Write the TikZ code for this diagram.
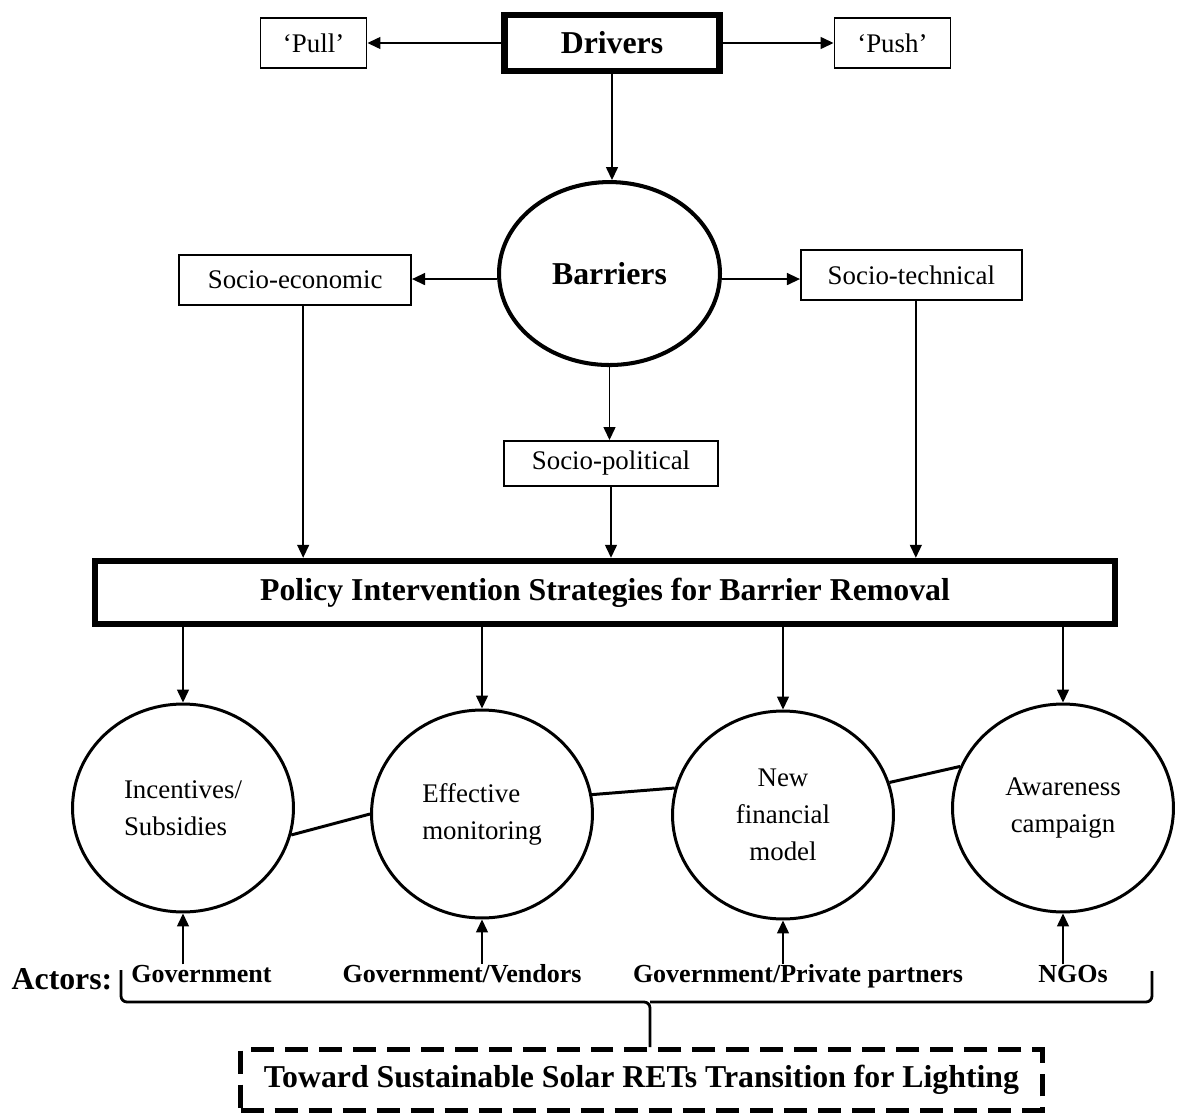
\documentclass[tikz,border=0pt]{standalone}
\usepackage{fontspec}
\setmainfont{Liberation Serif}
\usepackage{tikz}
\usetikzlibrary{positioning,shapes.geometric,arrows.meta,calc}
\newcommand{\hdfont}{\fontsize{18.1}{21}\selectfont\bfseries}
\newcommand{\bxfont}{\fontsize{15.3}{21}\selectfont}
\newcommand{\actfont}{\fontsize{14.8}{18}\selectfont\bfseries}

\begin{document}
\begin{tikzpicture}[
    x=0.02cm, y=-0.02cm,
    box/.style={rectangle, draw, line width=1pt, minimum height=1cm, align=center, font=\bxfont},
    thickbox/.style={rectangle, draw, line width=3.5pt, minimum height=1.12cm, align=center, font=\hdfont},
    circ/.style={ellipse, draw, line width=1.7pt, minimum width=4.42cm, minimum height=4.16cm, inner sep=0pt, font=\bxfont},
    actor/.style={anchor=base, inner sep=0pt, font=\actfont},
    arrow/.style={-{Triangle[length=0.26cm, width=0.24cm]}, line width=0.8pt},
    link/.style={line width=1.7pt},
    bracel/.style={line width=1.6pt, rounded corners=0.12cm}
]
    \useasboundingbox (0,0) rectangle (1184,1115);

    % Drivers and the two directions
    \node[thickbox, minimum width=4.3cm] (drivers) at (612,43) {Drivers};
    \node[box, minimum width=2.12cm, left=2.68cm of drivers] (pull) {`Pull'};
    \node[box, minimum width=2.32cm, right=2.22cm of drivers] (push) {`Push'};

    % Barriers and the three kinds
    \node[ellipse, draw, line width=2.3pt, minimum width=4.42cm, minimum height=3.66cm, font=\hdfont, below=2.12cm of drivers.south, anchor=north, xshift=-0.05cm] (barriers) {Barriers};
    \node[box, minimum width=4.64cm, left=1.7cm of barriers, yshift=-0.13cm] (socio_eco) {Socio-economic};
    \node[box, minimum width=4.42cm, right=1.56cm of barriers, yshift=-0.03cm] (socio_tech) {Socio-technical};
    \node[box, minimum width=4.28cm, minimum height=0.9cm, below=1.46cm of barriers, xshift=0.03cm] (socio_pol) {Socio-political};

    % Policy box
    \node[thickbox, minimum width=20.42cm, minimum height=1.26cm, below=1.42cm of socio_pol, xshift=-0.12cm] (policy) {Policy Intervention Strategies for Barrier Removal};

    % Strategies
    \node[circ, align=left] (incentives) at (183,808) {Incentives/\\Subsidies};
    \node[circ, align=left] (monitoring) at (482,814) {Effective\\monitoring};
    \node[circ, align=center] (finance) at (783,815) {New\\financial\\model};
    \node[circ, align=center] (awareness) at (1063,808) {Awareness\\campaign};

    % Actors
    \node[anchor=base, inner sep=0pt, font=\hdfont] (actors) at (62,989) {Actors:};
    \node[actor] (act_gov) at (201.5,982) {Government};
    \node[actor] (act_vendors) at (462,982) {Government/Vendors};
    \node[actor] (act_private) at (798,982) {Government/Private partners};
    \node[actor] (act_ngos) at (1073,982) {NGOs};

    % Goal
    \node[rectangle, draw, line width=2.8pt, dash pattern=on 0.46cm off 0.22cm, minimum width=16.04cm, minimum height=1.22cm, font=\hdfont] (goal) at (641.5,1080) {Toward Sustainable Solar RETs Transition for Lighting};

    % Arrows: drivers
    \draw[arrow] (drivers.west) -- (pull.east);
    \draw[arrow] (drivers.east) -- (push.west);
    \draw[arrow] (drivers.south) -- (drivers.south |- barriers.north);

    % Arrows: barriers
    \draw[arrow] ([yshift=-0.11cm]barriers.west) -- ([yshift=-0.11cm]barriers.west -| socio_eco.east);
    \draw[arrow] ([yshift=-0.11cm]barriers.east) -- ([yshift=-0.11cm]barriers.east -| socio_tech.west);
    \draw[arrow] (barriers.south) -- (barriers.south |- socio_pol.north);

    % Arrows: into policy
    \draw[arrow] ([xshift=0.16cm]socio_eco.south) -- ([xshift=0.16cm]socio_eco.south |- policy.north);
    \draw[arrow] (socio_pol.south) -- (socio_pol.south |- policy.north);
    \draw[arrow] ([xshift=0.09cm]socio_tech.south) -- ([xshift=0.09cm]socio_tech.south |- policy.north);

    % Arrows: policy to strategies
    \foreach \s in {incentives,monitoring,finance,awareness}
        \draw[arrow] (policy.south -| \s.north) -- (\s.north);

    % Links between strategies
    \draw[link] (incentives.-14) -- (monitoring.180);
    \draw[link] (monitoring.10) -- (finance.166);
    \draw[link] (finance.17) -- (awareness.158);

    % Arrows: actors to strategies
    \draw[arrow] (act_gov.north -| incentives.south) -- (incentives.south);
    \draw[arrow] (act_vendors.north -| monitoring.south) -- (monitoring.south);
    \draw[arrow] (act_private.north -| finance.south) -- (finance.south);
    \draw[arrow] (act_ngos.north -| awareness.south) -- (awareness.south);

    % Brace under the actors
    \coordinate (brace_l) at (121,970);
    \coordinate (brace_r) at (1152,971);
    \coordinate (brace_m) at (650,1002);
    \draw[bracel] (brace_l) |- (brace_m) -- (brace_m |- goal.north);
    \draw[bracel] (brace_r) |- (brace_m);
\end{tikzpicture}
\end{document}
